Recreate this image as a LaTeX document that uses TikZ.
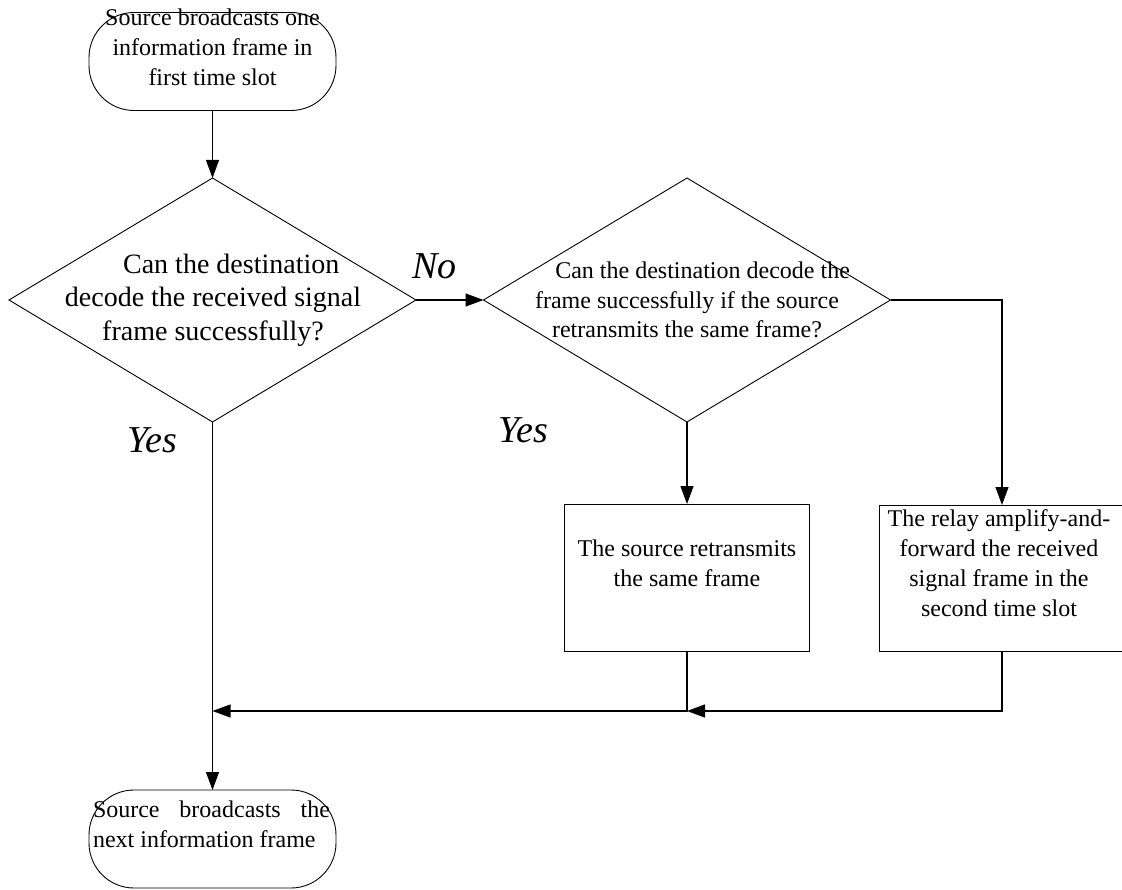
\documentclass[tikz,border=0pt]{standalone}
\usepackage{fontspec}
\setmainfont{Liberation Serif}
\usetikzlibrary{shapes.geometric,arrows.meta,calc}
\tikzset{
  shapeline/.style={draw=black,line width=0.9pt,outer sep=0pt,inner sep=0pt},
  term/.style={shapeline,rectangle,rounded corners=45pt,minimum width=247pt,minimum height=98pt},
  dia/.style={shapeline,diamond,minimum width=407pt,minimum height=244pt},
  procbox/.style={shapeline,rectangle,minimum width=245pt,minimum height=147pt},
  txt24/.style={inner sep=0pt,align=center,font=\fontsize{24pt}{29.8pt}\selectfont},
  txt28/.style={inner sep=0pt,align=center,font=\fontsize{28pt}{33.5pt}\selectfont},
  lab/.style={inner sep=0pt,font=\fontsize{38pt}{40pt}\selectfont\itshape},
  arr/.style={draw=black,line width=1.1pt,-{Triangle[length=18pt,width=13pt]}},
  conn/.style={draw=black,line width=1.1pt}
}
\begin{document}
\begin{tikzpicture}[x=1pt,y=-1pt]
\useasboundingbox (0,0) rectangle (1122,890);
\clip (0,0) rectangle (1122,890);
\fill[white] (0,0) rectangle (1122,890);

% shapes
\node[term] (top) at (212.5,61.5) {};
\node[dia] (d1) at (212.5,300) {};
\node[dia] (d2) at (687,300) {};
\node[procbox] (b1) at (687,577.5) {};
\node[procbox,minimum width=246pt,minimum height=146pt] (b2) at (1002,578) {};
\node[term] (bot) at (212.5,839) {};

% texts
\node[txt24] (ttop) at (212.5,47.5) {Source broadcasts one\\information frame in\\first time slot};
\node[txt28] (td1) at (213,300) {\hspace*{1.3em}Can the destination\\decode the received signal\\frame successfully?};
\node[txt24] (td2) at (687,300) {\hspace*{1.3em}Can the destination decode the\\frame successfully if the source\\retransmits the same frame?};
\node[txt24] (tb1) at (687,563.5) {The source retransmits\\the same frame};
\node[txt24] (tb2) at (999,563) {The relay amplify-and-\\forward the received\\signal frame in the\\second time slot};
\node[txt24,align=left] (tbot) at (211.5,824.5) {\hbox to 237pt{Source\hfill broadcasts\hfill the}\\next information frame};

% labels
\node[lab] (no) at (434.5,266.5) {No};
\node[lab] (yes1) at (152.5,440.5) {Yes};
\node[lab] (yes2) at (523.5,430.5) {Yes};

% junctions
\coordinate (j1) at (212.5,711);
\coordinate (j2) at (687,711);

% connectors
\draw[arr] (top.south) -- (d1.north);
\draw[arr] (d1.east) -- (d2.west);
\draw[arr] (d2.south) -- (b1.north);
\draw[arr] (d2.east) -| (b2.north);
\draw[arr] (d1.south) -- (bot.north);
\draw[arr] (b1.south) |- (j1);
\draw[arr] (b2.south) |- (j2);
\end{tikzpicture}
\end{document}
